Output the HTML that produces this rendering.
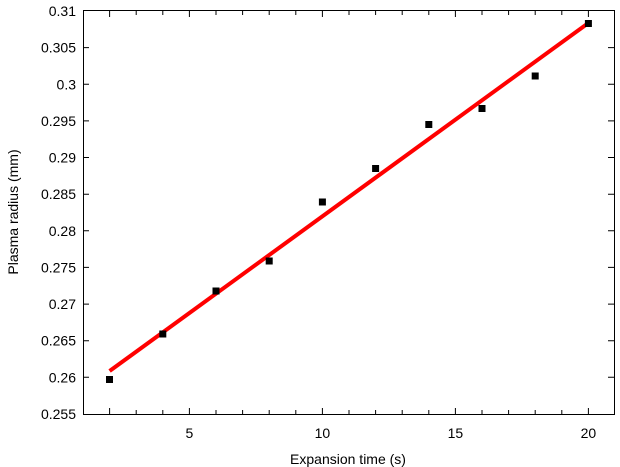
<!DOCTYPE html>
<html><head><style>body{margin:0;background:#fff}svg{display:block}text{font-family:"Liberation Sans",sans-serif;font-size:14px;fill:#000}</style></head><body>
<svg width="620" height="467" viewBox="0 0 620 467">
<rect width="620" height="467" fill="#fff"/>
<g stroke="#000" stroke-width="1">
<rect x="83.5" y="10.5" width="531" height="404" fill="none"/>
<!-- x ticks -->
<g id="xt">
<path d="M109.6 414v-6M136.2 414v-4M162.8 414v-4M189.4 414v-6M216 414v-4M242.6 414v-4M269.2 414v-4M295.8 414v-4M322.4 414v-6M349 414v-4M375.6 414v-4M402.2 414v-4M428.8 414v-4M455.4 414v-6M482 414v-4M508.6 414v-4M535.2 414v-4M561.8 414v-4M588.4 414v-6"/>
<path d="M109.6 11v6M136.2 11v4M162.8 11v4M189.4 11v6M216 11v4M242.6 11v4M269.2 11v4M295.8 11v4M322.4 11v6M349 11v4M375.6 11v4M402.2 11v4M428.8 11v4M455.4 11v6M482 11v4M508.6 11v4M535.2 11v4M561.8 11v4M588.4 11v6"/>
</g>
<path d="M83 47.6h6M83 84.3h6M83 120.9h6M83 157.5h6M83 194.2h6M83 230.8h6M83 267.4h6M83 304.1h6M83 340.7h6M83 377.3h6"/>
<path d="M614 47.6h-6M614 84.3h-6M614 120.9h-6M614 157.5h-6M614 194.2h-6M614 230.8h-6M614 267.4h-6M614 304.1h-6M614 340.7h-6M614 377.3h-6"/>
</g>
<g text-anchor="end">
<text x="76" y="16">0.31</text><text x="76" y="52.6">0.305</text><text x="76" y="89.3">0.3</text><text x="76" y="125.9">0.295</text><text x="76" y="162.5">0.29</text><text x="76" y="199.2">0.285</text><text x="76" y="235.8">0.28</text><text x="76" y="272.4">0.275</text><text x="76" y="309.1">0.27</text><text x="76" y="345.7">0.265</text><text x="76" y="382.3">0.26</text><text x="76" y="419">0.255</text>
</g>
<g text-anchor="middle">
<text x="189.4" y="438">5</text><text x="322.4" y="438">10</text><text x="455.4" y="438">15</text><text x="588.4" y="438">20</text>
<text x="348" y="464">Expansion time (s)</text>
<text transform="translate(18 212) rotate(-90)">Plasma radius (mm)</text>
</g>
<line x1="109.6" y1="371" x2="588.4" y2="23" stroke="#f00" stroke-width="4"/>
<g fill="#000">
<rect x="106" y="376" width="7" height="7"/><rect x="159.3" y="330.5" width="7" height="7"/><rect x="212.5" y="287.5" width="7" height="7"/><rect x="265.7" y="257.5" width="7" height="7"/><rect x="318.9" y="198.5" width="7" height="7"/><rect x="372.1" y="165" width="7" height="7"/><rect x="425.3" y="121" width="7" height="7"/><rect x="478.5" y="105" width="7" height="7"/><rect x="531.7" y="72.5" width="7" height="7"/><rect x="584.9" y="20" width="7" height="7"/>
</g>
</svg>
</body></html>
